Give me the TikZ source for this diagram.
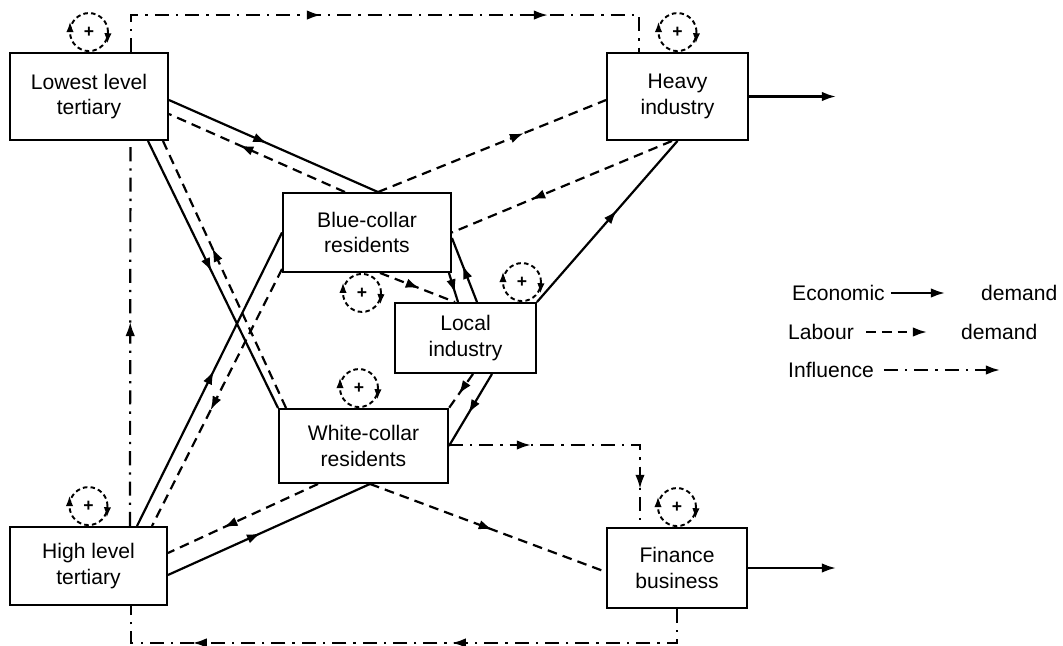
\documentclass[tikz,border=0pt]{standalone}
\usepackage{fontspec}
\setmainfont{Liberation Sans}
\usetikzlibrary{arrows.meta,positioning,decorations.markings}

\begin{document}
\begin{tikzpicture}[
    x=0.02cm, y=-0.02cm,
    >={Latex[length=8pt,width=5.4pt]},
    font=\fontsize{12}{14.5}\selectfont,
    box/.style={draw,line width=1.1pt,align=center,minimum width=2.82cm,minimum height=1.6cm,inner sep=2pt},
    econ/.style={line width=1.25pt},
    labour/.style={line width=1.25pt,dash pattern=on 5.5pt off 3.5pt},
    infl/.style={line width=1.25pt,dash pattern=on 8pt off 4pt on 1.3pt off 4pt},
    arrowat/.style={postaction={decorate,decoration={markings,mark=at position #1 with {\arrow{>}}}}},
    selfloop/.style={circle,draw,line width=1.1pt,dash pattern=on 2.6pt off 1.8pt,
      minimum size=7.6mm,inner sep=0pt,font=\bfseries,
      postaction={decorate,decoration={markings,
        mark=at position 0.5 with {\arrow{Latex[length=6pt,width=4.2pt,reversed]}},
        mark=at position 0.99 with {\arrow{Latex[length=6pt,width=4.2pt,reversed]}}}}}]
  \useasboundingbox (0,0) rectangle (1063,646);

  % sectors
  \node[box,minimum width=3.16cm,minimum height=1.74cm] (llt) at (89,96.5) {Lowest level\\tertiary};
  \node[box,minimum height=1.74cm] (hi) at (677.5,96.5) {Heavy\\industry};
  \node[box,minimum width=3.36cm,minimum height=1.58cm] (bc) at (367,232.5) {Blue-collar\\residents};
  \node[box,minimum height=1.4cm] (li) at (465.5,338) {Local\\industry};
  \node[box,minimum width=3.38cm,minimum height=1.48cm] (wc) at (363.5,446) {White-collar\\residents};
  \node[box,minimum width=3.14cm,minimum height=1.56cm] (hlt) at (88.5,566) {High level\\tertiary};
  \node[box,minimum width=2.8cm] (fb) at (677,568) {Finance\\business};

  % self-reinforcing loops
  \node[selfloop,above=0pt of llt] (lltloop) {+};
  \node[selfloop,above=0pt of hi] (hiloop) {+};
  \node[selfloop,below=0pt of bc,xshift=-1mm] (bcloop) {+};
  \node[selfloop,above=0pt of li,xshift=11.3mm] (liloop) {+};
  \node[selfloop,above=0pt of wc,xshift=-0.9mm] (wcloop) {+};
  \node[selfloop,above=0pt of hlt] (hltloop) {+};
  \node[selfloop,above=0pt of fb] (fbloop) {+};

  % economic demand
  \draw[econ,arrowat=0.47] ([yshift=-0.7mm]llt.east) -- ([xshift=2.2mm]bc.north);
  \draw[econ,arrowat=0.49] ([xshift=11.8mm]llt.south) -- (wc.north west);
  \draw[econ,arrowat=0.53] ([xshift=9.7mm]hlt.north) -- (bc.west);
  \draw[econ,arrowat=0.46] ([yshift=-1.8mm]hlt.east) -- ([xshift=1.3mm]wc.south);
  \draw[econ,arrowat=0.57] (li.north east) -- (hi.south);
  \draw[econ,arrowat=0.58] ([xshift=2.3mm]li.north) -- ([yshift=-1.1mm]bc.east);
  \draw[econ,arrowat=0.7] ([xshift=-0.6mm]bc.south east) -- ([xshift=-1.5mm]li.north);
  \draw[econ,arrowat=0.55] ([xshift=5.3mm]li.south) -- (wc.east);
  \draw[econ,->] (hi.east) -- ([xshift=17.4mm]hi.east);
  \draw[econ,->] (fb.east) -- ([xshift=17.6mm]fb.east);

  % labour demand
  \draw[labour,arrowat=0.6] ([xshift=-4.4mm]bc.north) -- ([yshift=-3.5mm]llt.east);
  \draw[labour,arrowat=0.6] ([xshift=1.6mm]wc.north west) -- ([xshift=14.8mm]llt.south);
  \draw[labour,arrowat=0.55] ([yshift=0.8mm]bc.south west) -- ([xshift=12.7mm]hlt.north);
  \draw[labour,arrowat=0.63] ([xshift=-9.1mm]wc.south) -- ([yshift=2.6mm]hlt.east);
  \draw[labour,arrowat=0.52] ([xshift=1.3mm]wc.south) -- ([yshift=-0.8mm]fb.west);
  \draw[labour,arrowat=0.64] ([xshift=2.2mm]bc.north) -- ([yshift=-0.7mm]hi.west);
  \draw[labour,arrowat=0.64] ([xshift=-1.1mm]hi.south) -- (bc.east);
  \draw[labour,arrowat=0.53] ([xshift=2.6mm]bc.south) -- ([xshift=-2.1mm]li.north);
  \draw[labour,arrowat=0.6] ([xshift=1.5mm]li.south) -- (wc.north east);

  % influence
  \draw[infl,arrowat=0.39,arrowat=0.78] ([xshift=8.4mm]llt.north) -- ++(0,7.4mm) -| ([xshift=-7.7mm]hi.north);
  \draw[infl,arrowat=0.53] ([xshift=8.3mm]hlt.north) -- ([xshift=8.3mm]llt.south);
  \draw[infl,arrowat=0.42,arrowat=0.84] (fb.south) -- ++(0,-6.8mm) -| ([xshift=8.5mm]hlt.south);
  \draw[infl,arrowat=0.3,arrowat=0.86] ([yshift=0.2mm]wc.east) -| ([xshift=-7.4mm]fb.north);

  % legend
  \node[anchor=west] (ecotxt) at (786,293) {Economic};
  \node[anchor=west] (ecodem) at (975,293) {demand};
  \node[anchor=west] (labtxt) at (782,332) {Labour};
  \node[anchor=west] (labdem) at (955,332) {demand};
  \node[anchor=west] (inftxt) at (782,370) {Influence};
  \coordinate (infend) at (1000,370);
  \draw[econ,->] (ecotxt.east) -- ([xshift=-6mm]ecodem.west);
  \draw[labour,->] ([xshift=1.2mm]labtxt.east) -- ([xshift=-5.6mm]labdem.west);
  \draw[infl,->] ([xshift=0.8mm]inftxt.east) -- (infend);
\end{tikzpicture}
\end{document}
